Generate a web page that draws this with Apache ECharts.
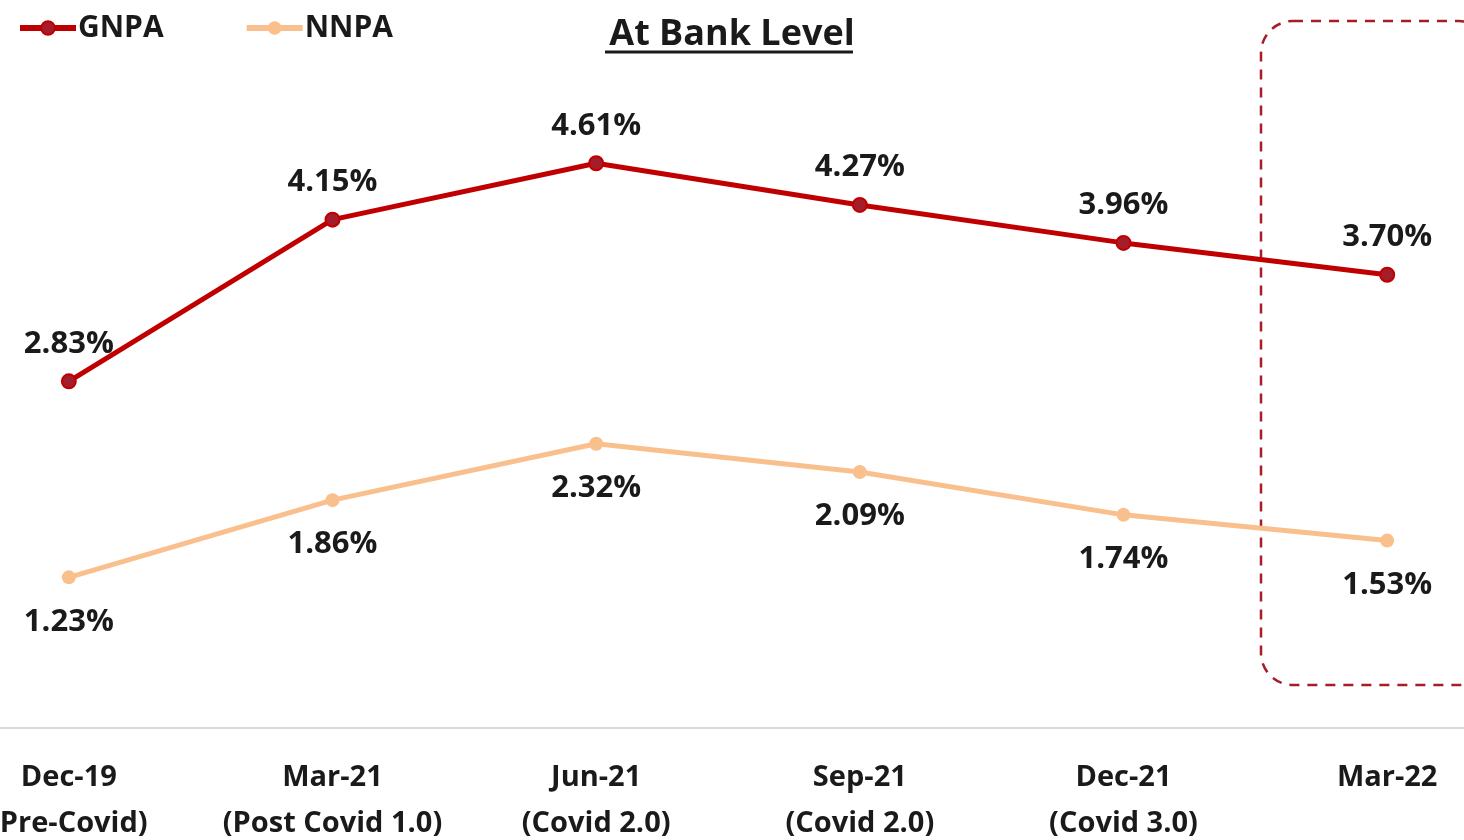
<!DOCTYPE html>
<html>
<head>
<meta charset="utf-8">
<script src="https://cdn.jsdelivr.net/npm/echarts@6/dist/echarts.min.js"></script>
<style>
html,body{margin:0;padding:0;background:#fff;}
#chart{width:1464px;height:840px;}
</style>
</head>
<body>
<div id="chart"></div>
<script>
// quarter labels
var categories = ["Dec-19\n(Pre-Covid)", "Mar-21\n(Post Covid 1.0)", "Jun-21\n(Covid 2.0)",
				  "Sep-21\n(Covid 2.0)", "Dec-21\n(Covid 3.0)", "Mar-22"];
var gnpa = [2.83, 4.15, 4.61, 4.27, 3.96, 3.70];
var nnpa = [1.23, 1.86, 2.32, 2.09, 1.74, 1.53];

var FONT = "Open Sans";

var mychart = echarts.init(document.getElementById('chart'));

var option = {
	animation : false,
	title : {
		text : "At Bank Level",
		left : 'center',
		top : 12,
		textStyle : {fontFamily:FONT, fontSize:36, fontWeight:'bold', color:'#1a1a1a'}
	},
	legend : {
		left : 12,
		top : 8,
		itemGap : 80,
		itemWidth : 56,
		itemHeight : 17,
		lineStyle : {width:6},
		textStyle : {fontFamily:FONT, fontSize:30, fontWeight:'bold', color:'#1a1a1a', padding:[0,0,0,-3]},
		data : ['GNPA','NNPA']
	},
	grid : {
		left : -63,
		right : -55,
		top : 115.5,
		bottom : 112,
		outerBoundsMode : 'none',
		containLabel : false
	},
	xAxis : {
		type : 'category',
		data : categories,
		axisLine : {lineStyle : {color:'#d9d9d9', width:2}},
		axisTick : {show:false},
		axisLabel : {
			interval : 0,
			margin : 27,
			fontFamily : FONT,
			fontSize : 29,
			fontWeight : 'bold',
			color : '#1a1a1a',
			lineHeight : 46
		}
	},
	yAxis : {
		type : 'value',
		min : 0,
		max : 5,
		show : false,
		splitLine : {show:false}
	},
	series : [
		{
			name : 'GNPA',
			type : 'line',
			data : gnpa,
			symbol : 'circle',
			symbolSize : 14,
			lineStyle : {color:'#c00000', width:5},
			itemStyle : {color:'#a51c2a', borderColor:'#c00000', borderWidth:2},
			label : {
				show : true,
				position : 'top',
				distance : 14,
				formatter : function(p){ return p.value.toFixed(2) + "%"; },
				fontFamily : FONT, fontSize : 31, fontWeight : 'bold', color : '#1a1a1a'
			}
		},
		{
			name : 'NNPA',
			type : 'line',
			data : nnpa,
			symbol : 'circle',
			symbolSize : 14,
			lineStyle : {color:'#f9c08e', width:5},
			itemStyle : {color:'#f9c08e'},
			label : {
				show : true,
				position : 'bottom',
				distance : 22,
				formatter : function(p){ return p.value.toFixed(2) + "%"; },
				fontFamily : FONT, fontSize : 31, fontWeight : 'bold', color : '#1a1a1a'
			}
		}
	],
	graphic : [
		// underline under the title
		{type:'line', shape:{x1:605, y1:52, x2:853, y2:52}, style:{stroke:'#1a1a1a', lineWidth:3}},
		// dashed highlight box around the last quarter
		{type:'rect', shape:{x:1261, y:21, width:230, height:664, r:32},
		 style:{fill:'none', stroke:'#a51c2a', lineWidth:2.5, lineDash:[10,8]}}
	]
};
mychart.setOption(option);
</script>
</body>
</html>
